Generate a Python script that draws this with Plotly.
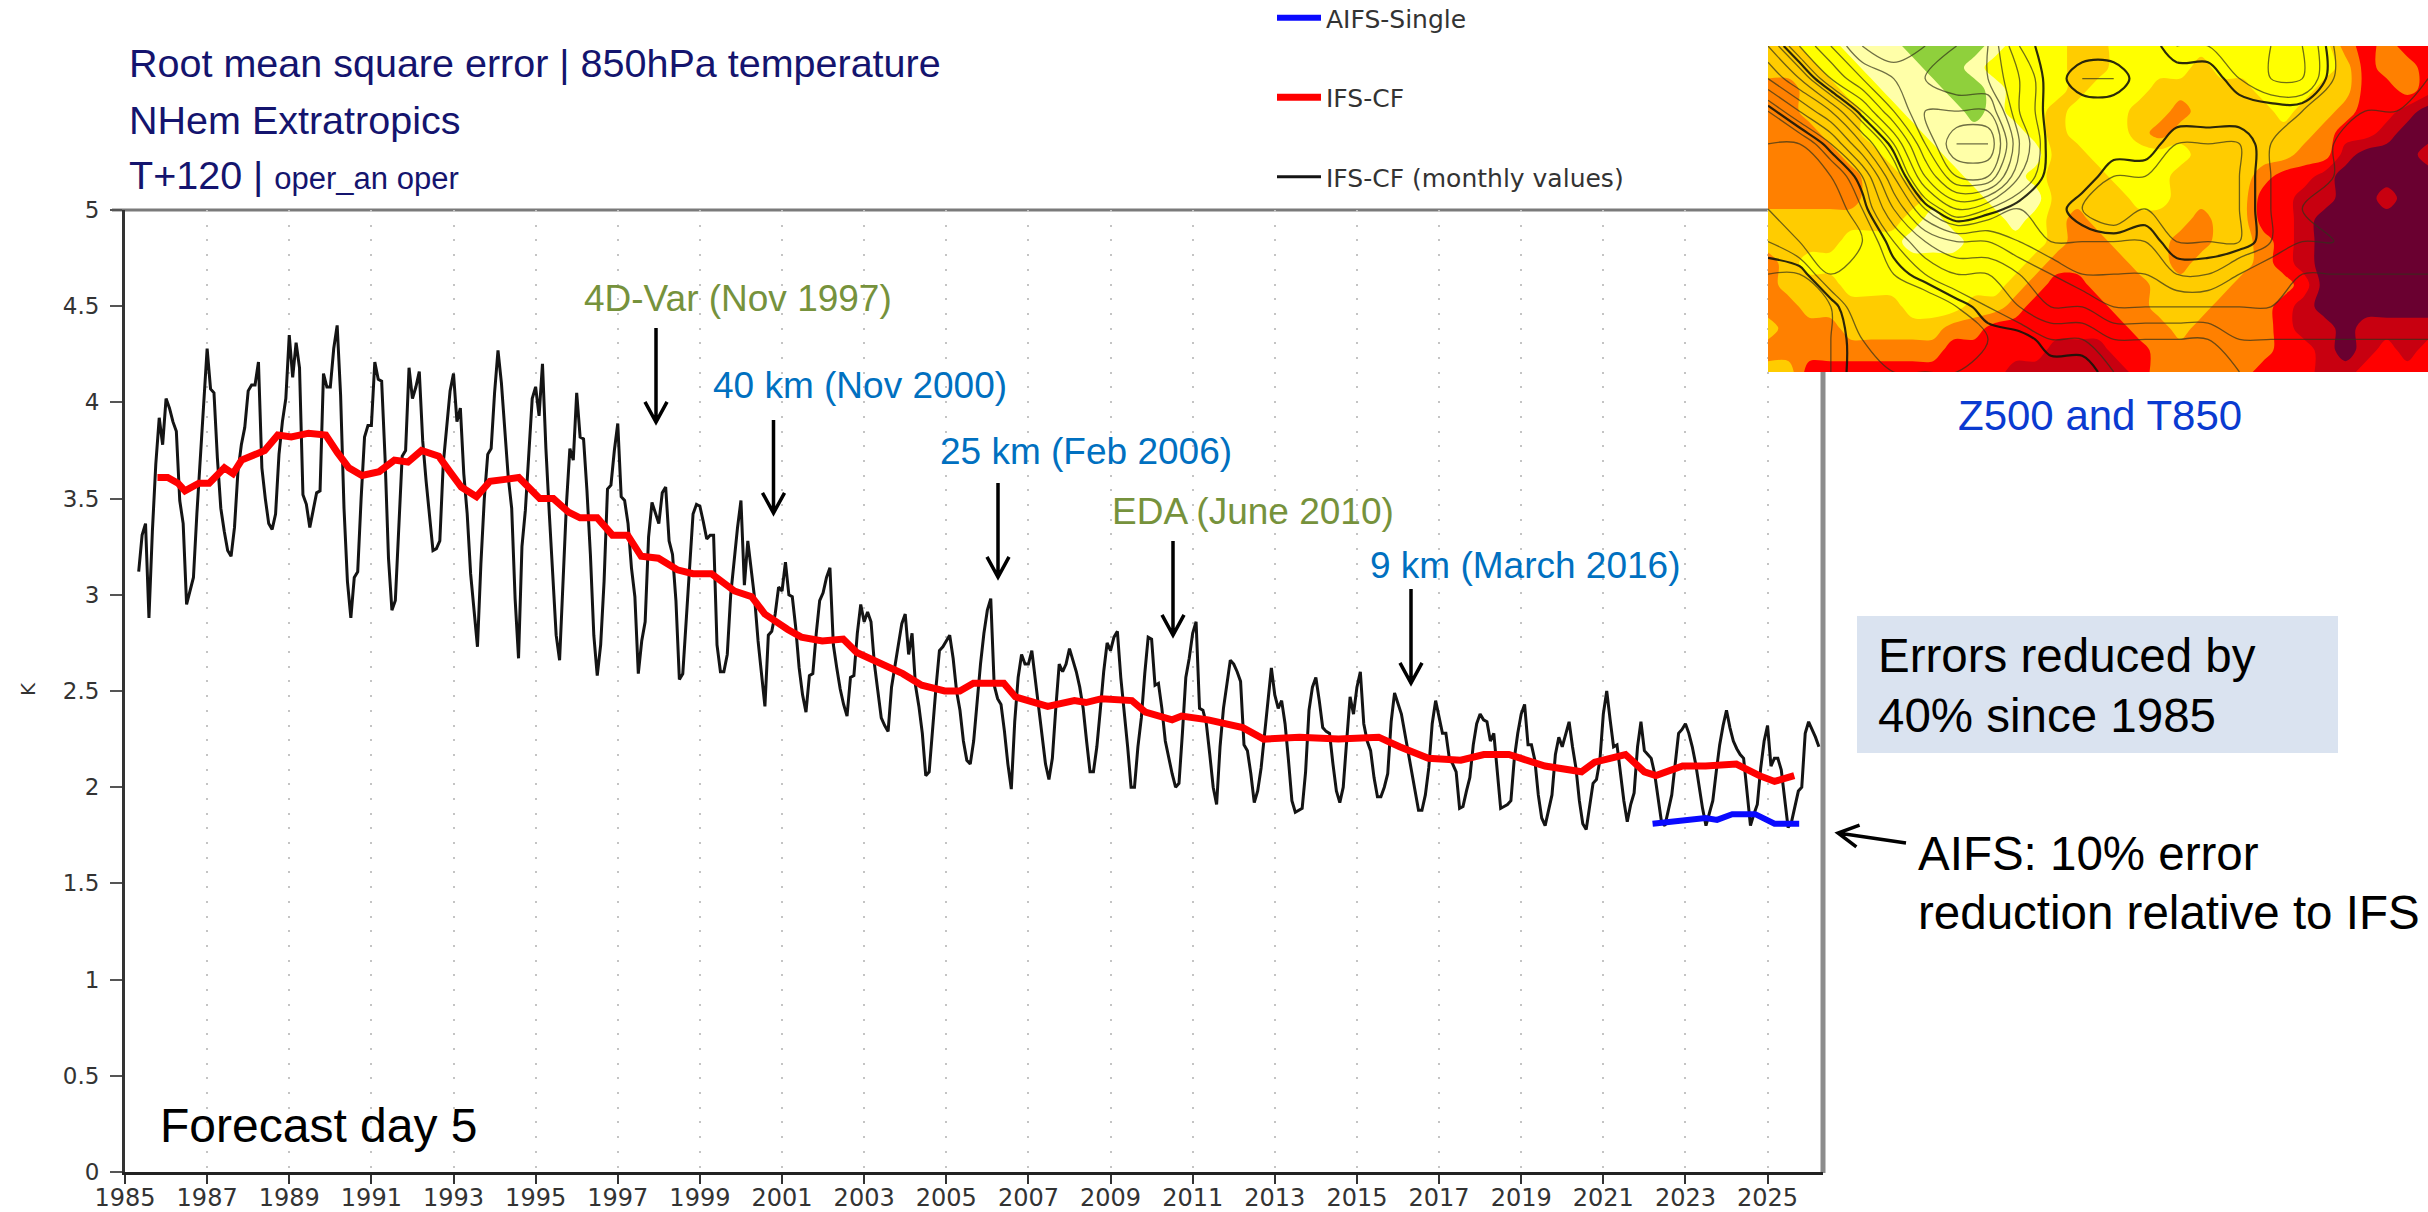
# plot.py
# T850 RMSE at day 5, NH extratropics, with a Z500/T850 map inset

import numpy as np
import plotly.graph_objects as go

W, H = 2428, 1212
FONT = "Liberation Sans, Arial, sans-serif"
TICK_FONT = "DejaVu Sans, sans-serif"

# monthly values in K, first value is May 1985
ifs_monthly = [
    3.12, 3.31, 3.37, 2.88, 3.33, 3.68, 3.92, 3.78,
    4.02, 3.97, 3.90, 3.85, 3.49, 3.37, 2.95, 3.02, 3.09, 3.42, 3.71, 3.94,  # 1986
    4.28, 4.07, 4.05, 3.71, 3.45, 3.33, 3.23, 3.20, 3.35, 3.64, 3.78, 3.87,  # 1987
    4.06, 4.09, 4.09, 4.21, 3.66, 3.50, 3.37, 3.34, 3.42, 3.73, 3.90, 4.02,  # 1988
    4.35, 4.13, 4.31, 4.18, 3.52, 3.47, 3.35, 3.44, 3.53, 3.54, 4.15, 4.08,  # 1989
    4.08, 4.28, 4.40, 4.04, 3.45, 3.07, 2.88, 3.09, 3.12, 3.50, 3.82, 3.88,  # 1990
    3.88, 4.21, 4.12, 4.11, 3.71, 3.19, 2.92, 2.97, 3.31, 3.72, 3.75, 4.18,  # 1991
    4.02, 4.08, 4.16, 3.80, 3.59, 3.42, 3.23, 3.24, 3.28, 3.68, 3.89, 4.06,  # 1992
    4.15, 3.90, 3.97, 3.63, 3.42, 3.11, 2.92, 2.73, 3.16, 3.50, 3.73, 3.76,  # 1993
    4.05, 4.27, 4.10, 3.85, 3.61, 3.45, 2.98, 2.67, 3.25, 3.44, 3.73, 4.02,  # 1994
    4.08, 3.93, 4.20, 3.76, 3.42, 3.07, 2.79, 2.66, 3.04, 3.47, 3.76, 3.70,  # 1995
    4.05, 3.82, 3.81, 3.54, 3.21, 2.79, 2.58, 2.74, 3.07, 3.55, 3.57, 3.75,  # 1996
    3.89, 3.51, 3.49, 3.37, 3.14, 2.99, 2.59, 2.76, 2.86, 3.30, 3.48, 3.43,  # 1997
    3.37, 3.53, 3.56, 3.28, 3.21, 2.97, 2.56, 2.59, 2.86, 3.14, 3.42, 3.47,  # 1998
    3.46, 3.38, 3.29, 3.31, 3.31, 2.74, 2.60, 2.60, 2.69, 3.00, 3.18, 3.35,  # 1999
    3.49, 3.05, 3.28, 3.14, 2.98, 2.76, 2.57, 2.42, 2.79, 2.81, 2.90, 3.04,  # 2000
    3.02, 3.17, 3.00, 2.99, 2.83, 2.62, 2.48, 2.39, 2.58, 2.59, 2.80, 2.97,  # 2001
    3.01, 3.09, 3.14, 2.74, 2.62, 2.51, 2.43, 2.37, 2.57, 2.58, 2.80, 2.95,  # 2002
    2.86, 2.91, 2.86, 2.64, 2.50, 2.36, 2.32, 2.29, 2.52, 2.64, 2.74, 2.85,  # 2003
    2.90, 2.69, 2.80, 2.53, 2.42, 2.28, 2.06, 2.08, 2.31, 2.52, 2.71, 2.73,  # 2004
    2.76, 2.79, 2.67, 2.50, 2.40, 2.24, 2.14, 2.12, 2.24, 2.45, 2.64, 2.80,  # 2005
    2.92, 2.98, 2.53, 2.46, 2.43, 2.29, 2.12, 1.99, 2.34, 2.57, 2.69, 2.64,  # 2006
    2.64, 2.71, 2.57, 2.43, 2.28, 2.12, 2.04, 2.15, 2.41, 2.64, 2.60, 2.64,  # 2007
    2.72, 2.66, 2.60, 2.52, 2.41, 2.24, 2.08, 2.08, 2.21, 2.40, 2.60, 2.75,  # 2008
    2.71, 2.78, 2.81, 2.57, 2.40, 2.21, 2.00, 2.00, 2.21, 2.36, 2.59, 2.78,  # 2009
    2.77, 2.53, 2.54, 2.41, 2.24, 2.15, 2.07, 2.00, 2.02, 2.28, 2.57, 2.67,  # 2010
    2.80, 2.86, 2.41, 2.40, 2.33, 2.17, 2.00, 1.91, 2.21, 2.41, 2.55, 2.66,  # 2011
    2.64, 2.60, 2.55, 2.22, 2.19, 2.07, 1.92, 1.98, 2.10, 2.28, 2.45, 2.62,  # 2012
    2.48, 2.41, 2.45, 2.33, 2.14, 1.93, 1.87, 1.88, 1.89, 2.08, 2.40, 2.52,  # 2013
    2.57, 2.45, 2.31, 2.29, 2.28, 2.12, 1.98, 1.92, 2.00, 2.24, 2.47, 2.38,  # 2014
    2.52, 2.60, 2.33, 2.24, 2.19, 2.05, 1.95, 1.95, 2.00, 2.07, 2.34, 2.49,  # 2015
    2.43, 2.38, 2.28, 2.19, 2.08, 1.98, 1.88, 1.88, 1.96, 2.10, 2.33, 2.45,  # 2016
    2.37, 2.28, 2.28, 2.15, 2.12, 2.08, 1.89, 1.90, 1.98, 2.05, 2.22, 2.33,  # 2017
    2.38, 2.35, 2.34, 2.24, 2.28, 2.08, 1.89, 1.90, 1.91, 1.93, 2.15, 2.28,  # 2018
    2.38, 2.43, 2.22, 2.22, 2.14, 1.96, 1.84, 1.80, 1.88, 1.96, 2.17, 2.26,  # 2019
    2.21, 2.28, 2.34, 2.21, 2.10, 1.93, 1.81, 1.78, 1.91, 2.02, 2.04, 2.14,  # 2020
    2.38, 2.50, 2.35, 2.21, 2.22, 2.07, 1.93, 1.82, 1.91, 1.97, 2.21, 2.34,  # 2021
    2.19, 2.17, 2.15, 2.07, 1.95, 1.82, 1.80, 1.88, 1.96, 2.12, 2.28, 2.30,  # 2022
    2.33, 2.28, 2.21, 2.12, 2.00, 1.89, 1.80, 1.86, 1.93, 2.08, 2.22, 2.32,  # 2023
    2.40, 2.31, 2.24, 2.20, 2.17, 2.15, 1.98, 1.80, 1.86, 1.91, 2.10, 2.24,  # 2024
    2.32, 2.11, 2.15, 2.15, 2.09, 1.95, 1.79, 1.82, 1.91, 1.98, 2.00, 2.28,  # 2025
    2.34, 2.30, 2.26, 2.21,
]

# running mean, read at its bends
ifs_mean_years = [
    1985.79, 1986.04, 1986.29, 1986.46, 1986.80, 1987.05, 1987.42, 1987.63, 1987.84, 1988.12,
    1988.40, 1988.72, 1989.05, 1989.47, 1989.89, 1990.17, 1990.45, 1990.77, 1991.19, 1991.56,
    1991.89, 1992.22, 1992.64, 1992.91, 1993.19, 1993.56, 1993.89, 1994.26, 1994.59, 1994.87,
    1995.10, 1995.43, 1995.80, 1996.08, 1996.50, 1996.87, 1997.24, 1997.57, 1997.99, 1998.45,
    1998.83, 1999.28, 1999.84, 2000.26, 2000.58, 2001.14, 2001.47, 2001.98, 2002.49, 2002.82,
    2003.38, 2003.94, 2004.40, 2004.96, 2005.33, 2005.66, 2006.40, 2006.68, 2007.47, 2008.12,
    2008.40, 2008.78, 2009.52, 2009.85, 2010.50, 2010.73, 2011.38, 2012.22, 2012.73, 2013.60,
    2014.55, 2015.53, 2016.04, 2016.74, 2017.53, 2018.09, 2018.70, 2019.58, 2020.47, 2020.79,
    2021.54, 2022.00, 2022.28, 2022.93, 2023.49, 2024.24, 2024.80, 2025.17, 2025.65,
]
ifs_mean_values = [
    3.61, 3.61, 3.58, 3.54, 3.58, 3.58, 3.66, 3.63, 3.70, 3.73,
    3.75, 3.83, 3.82, 3.84, 3.83, 3.74, 3.66, 3.62, 3.64, 3.70,
    3.69, 3.75, 3.72, 3.64, 3.56, 3.51, 3.59, 3.60, 3.61, 3.55,
    3.50, 3.50, 3.43, 3.40, 3.40, 3.31, 3.31, 3.20, 3.19, 3.13,
    3.11, 3.11, 3.02, 2.99, 2.90, 2.82, 2.78, 2.76, 2.77, 2.70,
    2.64, 2.59, 2.53, 2.50, 2.50, 2.54, 2.54, 2.47, 2.42, 2.45,
    2.44, 2.46, 2.45, 2.39, 2.35, 2.37, 2.35, 2.31, 2.25, 2.26,
    2.25, 2.26, 2.21, 2.15, 2.14, 2.17, 2.17, 2.11, 2.08, 2.13,
    2.17, 2.08, 2.06, 2.11, 2.11, 2.12, 2.06, 2.03, 2.06,
]

aifs_years = [2022.20, 2022.93, 2023.49, 2023.77, 2024.14, 2024.70, 2025.17, 2025.77]
aifs_values = [1.81, 1.83, 1.84, 1.83, 1.86, 1.86, 1.81, 1.81]

year_ticks = list(range(1985, 2026, 2))
k_ticks = [0, 0.5, 1, 1.5, 2, 2.5, 3, 3.5, 4, 4.5, 5]

# map inset, 850 hPa temperature class per cell (1 green ... 8 maroon)
t850_classes = [
    [4, 4, 3, 3, 2, 2, 2, 1, 1, 1, 1, 2, 3, 3, 3, 4, 4, 3, 3, 3, 3, 3, 3, 3, 3, 3, 3, 3, 5, 6, 5, 6, 6],
    [4, 4, 4, 3, 3, 2, 2, 2, 1, 1, 2, 3, 3, 3, 3, 4, 4, 3, 3, 3, 3, 4, 3, 3, 3, 3, 3, 3, 4, 6, 5, 5, 6],
    [5, 5, 4, 4, 3, 3, 2, 2, 2, 1, 1, 2, 3, 3, 3, 4, 3, 3, 3, 4, 4, 4, 4, 4, 3, 3, 3, 4, 4, 6, 6, 5, 6],
    [5, 5, 4, 4, 4, 3, 3, 2, 2, 2, 1, 2, 3, 3, 4, 3, 3, 3, 4, 4, 5, 4, 4, 4, 4, 3, 4, 4, 5, 6, 6, 7, 8],
    [5, 5, 5, 4, 4, 3, 3, 3, 2, 2, 2, 2, 2, 3, 4, 3, 3, 3, 4, 5, 4, 4, 4, 4, 4, 4, 4, 5, 6, 6, 7, 8, 8],
    [5, 5, 5, 5, 4, 4, 3, 3, 3, 2, 2, 2, 2, 2, 4, 4, 3, 3, 3, 3, 3, 4, 4, 4, 4, 4, 5, 5, 7, 8, 8, 8, 7],
    [5, 5, 5, 5, 5, 4, 4, 3, 3, 3, 2, 2, 2, 3, 4, 4, 4, 3, 3, 3, 4, 4, 4, 4, 5, 6, 6, 7, 8, 8, 8, 8, 8],
    [5, 5, 5, 5, 5, 4, 4, 4, 3, 3, 3, 2, 2, 2, 4, 4, 4, 4, 3, 3, 4, 4, 4, 4, 6, 6, 7, 7, 8, 8, 7, 8, 8],
    [4, 4, 4, 4, 4, 4, 4, 3, 2, 3, 3, 3, 2, 3, 4, 5, 4, 4, 4, 4, 4, 5, 4, 4, 6, 6, 7, 8, 8, 8, 8, 8, 8],
    [4, 4, 4, 4, 3, 3, 3, 2, 2, 2, 3, 3, 3, 3, 4, 5, 5, 4, 4, 4, 5, 5, 4, 4, 5, 6, 7, 8, 8, 8, 8, 8, 8],
    [5, 4, 3, 3, 3, 3, 3, 3, 3, 3, 3, 3, 3, 4, 5, 5, 5, 5, 4, 4, 5, 4, 4, 4, 5, 6, 7, 8, 8, 8, 8, 8, 8],
    [5, 4, 4, 4, 3, 3, 3, 3, 3, 3, 3, 3, 4, 5, 6, 6, 5, 5, 5, 4, 4, 4, 4, 5, 5, 5, 6, 8, 8, 8, 8, 8, 8],
    [5, 5, 4, 4, 4, 4, 4, 3, 3, 3, 4, 4, 5, 6, 6, 6, 6, 5, 5, 4, 4, 4, 5, 5, 5, 6, 7, 8, 8, 8, 8, 8, 8],
    [4, 5, 5, 5, 4, 4, 4, 4, 4, 5, 5, 6, 6, 6, 6, 6, 6, 6, 5, 5, 4, 5, 5, 5, 5, 6, 7, 7, 8, 7, 7, 7, 7],
    [5, 5, 5, 5, 5, 5, 5, 5, 5, 6, 6, 6, 6, 6, 7, 7, 7, 6, 6, 5, 5, 5, 5, 5, 5, 6, 6, 7, 8, 7, 6, 7, 6],
    [4, 4, 6, 6, 6, 6, 6, 6, 6, 6, 6, 6, 7, 7, 7, 7, 7, 7, 6, 5, 5, 5, 5, 5, 6, 6, 6, 7, 7, 6, 6, 6, 6],
]
t850_colors = ["#8fd03c", "#ffffa8", "#ffff00", "#ffcc00", "#ff8000", "#ff0000", "#c80010", "#6a0030"]

# map inset, 500 hPa height in contour steps
z500_steps = [
    [11, 8, 6, 4, 3, 4, 5, 6, 9, 10, 10, 10, 10, 9, 9, 9, 8, 8, 10, 11, 11, 11],
    [13, 11, 8, 6, 5, 5, 6, 6, 8, 10, 9, 9, 10, 10, 10, 9, 8, 8, 10, 11, 11, 11],
    [16, 14, 12, 9, 6, 4, 4, 4, 8, 10, 10, 10, 10, 10, 10, 10, 10, 10, 11, 11, 11, 12],
    [17, 17, 15, 12, 9, 5, 2, 2, 7, 10, 10, 10, 10, 9, 9, 9, 10, 11, 11, 12, 12, 12],
    [18, 18, 17, 15, 11, 7, 4, 4, 8, 10, 10, 9, 9, 9, 9, 9, 10, 11, 11, 12, 12, 12],
    [17, 18, 18, 16, 13, 10, 8, 9, 10, 10, 9, 8, 9, 9, 9, 9, 10, 11, 12, 12, 12, 12],
    [16, 17, 18, 17, 15, 13, 12, 12, 11, 10, 10, 10, 10, 9, 9, 9, 10, 11, 11, 12, 12, 12],
    [15, 15, 17, 17, 16, 15, 14, 14, 13, 12, 11, 11, 11, 10, 10, 11, 12, 12, 12, 12, 12, 12],
    [15, 15, 15, 17, 17, 17, 16, 15, 14, 13, 13, 12, 12, 12, 12, 12, 12, 13, 13, 13, 13, 13],
    [15, 14, 15, 16, 17, 17, 17, 16, 16, 15, 15, 14, 14, 14, 14, 13, 13, 13, 13, 13, 13, 13],
    [15, 15, 15, 16, 16, 16, 16, 16, 16, 16, 16, 15, 15, 15, 15, 14, 14, 14, 14, 14, 14, 14],
]

GREEN = "#76923c"
BLUE = "#0070c0"
NAVY = "#14146e"

# label, left px, centre px, colour
upgrades = [
    ("4D-Var (Nov 1997)", 582, 299, GREEN),
    ("40 km (Nov 2000)", 711, 385, BLUE),
    ("25 km (Feb 2006)", 938, 452, BLUE),
    ("EDA (June 2010)", 1110, 511, GREEN),
    ("9 km (March 2016)", 1368, 565, BLUE),
]
# x px, top px, tip px
upgrade_arrows = [(656, 328, 422), (773.5, 420, 513), (998, 483, 577), (1173, 541, 635), (1411, 589, 683)]


def px(x):
    return x / W


def py(y):
    return 1 - y / H


def label(fig, text, x, y, size, color="black", family=FONT, **kw):
    fig.add_annotation(text=text, x=px(x), y=py(y), xref="paper", yref="paper", showarrow=False,
                       xanchor="left", yanchor="middle", font=dict(family=family, size=size, color=color), **kw)


def open_arrow(fig, x0, y0, x1, y1, head=23, spread=0.5):
    """Line from (x0,y0) to the tip (x1,y1) with an open V head, all in pixels."""
    ang = np.arctan2(y0 - y1, x0 - x1)
    pts = [(x1 + head * np.cos(ang + s), y1 + head * np.sin(ang + s)) for s in (spread, -spread)]
    path = (f"M {px(x0)},{py(y0)} L {px(x1)},{py(y1)} "
            f"M {px(pts[0][0])},{py(pts[0][1])} L {px(x1)},{py(y1)} L {px(pts[1][0])},{py(pts[1][1])}")
    fig.add_shape(type="path", path=path, xref="paper", yref="paper", line=dict(color="black", width=3.5))


monthly_years = 1985 + (4 + np.arange(len(ifs_monthly))) / 12

fig = go.Figure()
fig.add_trace(go.Scatter(x=monthly_years, y=ifs_monthly, mode="lines", name="IFS-CF (monthly values)",
                         line=dict(color="#141414", width=3), legendgroup="c", legendrank=3))
fig.add_trace(go.Scatter(x=ifs_mean_years, y=ifs_mean_values, mode="lines", name="IFS-CF",
                         line=dict(color="#ff0000", width=7), legendgroup="b", legendrank=2))
fig.add_trace(go.Scatter(x=aifs_years, y=aifs_values, mode="lines", name="AIFS-Single",
                         line=dict(color="#0a0aff", width=6), legendgroup="a", legendrank=1))

# map inset, both fields stretched over the same unit square
n = len(t850_colors)
steps = []
for i, c in enumerate(t850_colors):
    steps += [[i / n, c], [(i + 1) / n, c]]
fig.add_trace(go.Contour(z=t850_classes, x=np.linspace(0, 1, len(t850_classes[0])),
                         y=np.linspace(0, 1, len(t850_classes)), xaxis="x2", yaxis="y2",
                         colorscale=steps, zmin=0.5, zmax=8.5,
                         contours=dict(coloring="fill", start=0.5, end=8.5, size=1),
                         line=dict(width=0, smoothing=1), showscale=False, showlegend=False, hoverinfo="skip"))
z_x = np.linspace(0, 1, len(z500_steps[0]))
z_y = np.linspace(0, 1, len(z500_steps))
fig.add_trace(go.Contour(z=z500_steps, x=z_x, y=z_y, xaxis="x2", yaxis="y2",
                         contours=dict(coloring="none", start=1, end=18, size=1),
                         line=dict(color="rgba(50,50,25,0.7)", width=1.3, smoothing=1),
                         showscale=False, showlegend=False, hoverinfo="skip"))
fig.add_trace(go.Contour(z=z500_steps, x=z_x, y=z_y, xaxis="x2", yaxis="y2",
                         contours=dict(coloring="none", start=9.5, end=15.5, size=6),
                         line=dict(color="rgba(20,20,10,0.9)", width=2.2, smoothing=1),
                         showscale=False, showlegend=False, hoverinfo="skip"))

fig.update_layout(
    width=W, height=H,
    margin=dict(l=0, r=0, t=0, b=0, pad=0, autoexpand=False),
    paper_bgcolor="white", plot_bgcolor="white",
    font=dict(family=TICK_FONT, color="#333333"),
    legend=dict(x=px(1272), y=py(-5), xanchor="left", yanchor="top", bgcolor="rgba(0,0,0,0)",
                font=dict(family=TICK_FONT, size=25, color="#333333"),
                itemwidth=44, tracegroupgap=44),
    xaxis=dict(domain=[px(125), px(1823)], range=[1985, 2026.35], tickmode="array", tickvals=year_ticks,
               ticks="outside", ticklen=9, tickwidth=2, tickcolor="#333333", ticklabelstandoff=-7,
               tickfont=dict(family=TICK_FONT, size=24, color="#333333"),
               showline=True, linecolor="#222222", linewidth=3, zeroline=False,
               showgrid=True, gridcolor="#c4c4c4", gridwidth=2, griddash="2px,12.7px"),
    yaxis=dict(domain=[py(1172), py(210)], range=[0, 5], tickmode="array", tickvals=k_ticks,
               ticktext=[f"{v:g}" for v in k_ticks], ticks="outside", ticklen=12, tickwidth=2, tickcolor="#555555",
               ticklabelstandoff=6, tickfont=dict(family=TICK_FONT, size=23, color="#333333"),
               showline=True, linecolor="#333333", linewidth=3, zeroline=False, showgrid=False),
    xaxis2=dict(domain=[px(1768), 1], visible=False, anchor="y2", range=[0, 1]),
    yaxis2=dict(domain=[py(372), py(46)], visible=False, anchor="x2", range=[1, 0]),
)

# top and right frame of the plot are a lighter grey
fig.add_shape(type="line", xref="paper", yref="paper", x0=px(112), x1=px(1823), y0=py(210), y1=py(210),
              line=dict(color="#7a7a7a", width=3), layer="below")
fig.add_shape(type="line", xref="paper", yref="paper", x0=px(1823), x1=px(1823), y0=py(210), y1=py(1173),
              line=dict(color="#8c8c8c", width=5), layer="below")
fig.add_shape(type="rect", xref="paper", yref="paper", x0=px(1857), x1=px(2338), y0=py(616), y1=py(753),
              fillcolor="#dae3f0", line=dict(width=0), layer="below")

label(fig, "Root mean square error | 850hPa temperature", 127, 63, 39.5, NAVY)
label(fig, "NHem Extratropics", 127, 120, 39.5, NAVY)
label(fig, 'T+120 | <span style="font-size:31px">oper_an oper</span>', 127, 175, 39.5, NAVY)
label(fig, "K", 14, 689, 20, "#333333", TICK_FONT, textangle=-90)
label(fig, "Forecast day 5", 158, 1125, 48)
label(fig, "Z500 and T850", 1956, 415, 42, "#0a3ad0")
label(fig, "Errors reduced by", 1876, 655, 47.5)
label(fig, "40% since 1985", 1876, 715, 47.5)
label(fig, "AIFS: 10% error", 1916, 853, 47.5)
label(fig, "reduction relative to IFS", 1916, 912, 47.5)

for (text, x, y, color), (ax, top, tip) in zip(upgrades, upgrade_arrows):
    label(fig, text, x, y, 37, color)
    open_arrow(fig, ax, top, ax, tip)
open_arrow(fig, 1906, 843, 1838, 833)

fig.write_html("out.html", config={"displayModeBar": False}, post_script="document.body.style.margin='0';")
